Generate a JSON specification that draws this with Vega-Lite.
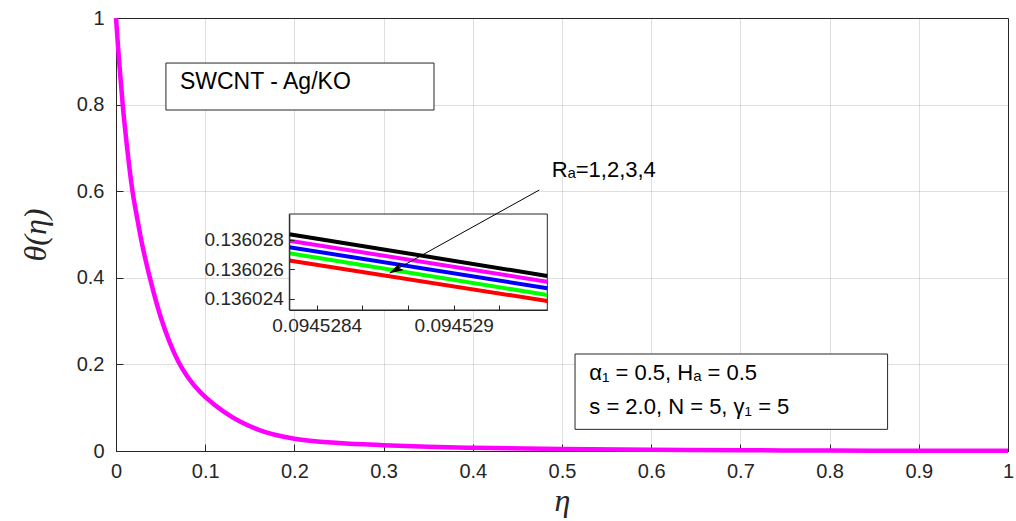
{
  "$schema": "https://vega.github.io/schema/vega-lite/v6.json",
  "width": 892,
  "height": 433,
  "autosize": {"type": "none"},
  "padding": {"left": 116, "top": 18, "right": 8, "bottom": 70},
  "background": "white",
  "config": {
    "view": {"stroke": "#262626", "strokeWidth": 1},
    "font": "Liberation Sans",
    "axis": {"labelColor": "#262626", "domainColor": "#262626", "tickColor": "#262626", "titleColor": "#262626"}
  },
  "datasets": {
    "curve": [
      {"eta": 0, "theta": 1},
      {"eta": 0.0035, "theta": 0.9},
      {"eta": 0.0075, "theta": 0.8},
      {"eta": 0.0125, "theta": 0.7},
      {"eta": 0.0185, "theta": 0.6},
      {"eta": 0.024, "theta": 0.535},
      {"eta": 0.029, "theta": 0.48},
      {"eta": 0.0374, "theta": 0.405},
      {"eta": 0.05, "theta": 0.31},
      {"eta": 0.06, "theta": 0.252},
      {"eta": 0.07, "theta": 0.206},
      {"eta": 0.08, "theta": 0.172},
      {"eta": 0.0945, "theta": 0.136},
      {"eta": 0.1, "theta": 0.125},
      {"eta": 0.12, "theta": 0.092},
      {"eta": 0.139, "theta": 0.068},
      {"eta": 0.16, "theta": 0.049},
      {"eta": 0.187, "theta": 0.0335},
      {"eta": 0.2, "theta": 0.0285},
      {"eta": 0.25, "theta": 0.0185},
      {"eta": 0.3, "theta": 0.0135},
      {"eta": 0.35, "theta": 0.01},
      {"eta": 0.4, "theta": 0.0075},
      {"eta": 0.5, "theta": 0.0045},
      {"eta": 0.6, "theta": 0.0028},
      {"eta": 0.7, "theta": 0.0018},
      {"eta": 0.8, "theta": 0.0011},
      {"eta": 0.9, "theta": 0.0006},
      {"eta": 1.0, "theta": 0.0003}
    ],
    "inset": [
      {"series": "red", "eta": 0.09452828, "theta": 0.13602660},
      {"series": "red", "eta": 0.09452941, "theta": 0.13602386},
      {"series": "green", "eta": 0.09452828, "theta": 0.13602710},
      {"series": "green", "eta": 0.09452941, "theta": 0.13602427},
      {"series": "blue", "eta": 0.09452828, "theta": 0.13602751},
      {"series": "blue", "eta": 0.09452941, "theta": 0.13602473},
      {"series": "magenta", "eta": 0.09452828, "theta": 0.13602795},
      {"series": "magenta", "eta": 0.09452941, "theta": 0.13602517},
      {"series": "black", "eta": 0.09452828, "theta": 0.13602839},
      {"series": "black", "eta": 0.09452941, "theta": 0.13602556}
    ]
  },
  "layer": [
    {
      "layer": [
        {
          "data": {"name": "curve"},
          "mark": {"type": "line", "color": "#FF00FF", "strokeWidth": 4.5, "interpolate": "monotone"},
          "encoding": {
            "x": {
              "field": "eta", "type": "quantitative",
              "scale": {"domain": [0, 1], "nice": false, "zero": false},
              "axis": {
                "orient": "bottom", "title": "η",
                "values": [0, 0.1, 0.2, 0.3, 0.4, 0.5, 0.6, 0.7, 0.8, 0.9, 1],
                "format": "~g", "labelFontSize": 20, "labelPadding": 17,
                "tickSize": -7, "grid": true, "gridColor": "#262626", "gridOpacity": 0.15,
                "titleFont": "Liberation Serif", "titleFontStyle": "italic", "titleFontWeight": "normal",
                "titleFontSize": 32, "titlePadding": 4, "labelFlush": false
              }
            },
            "y": {
              "field": "theta", "type": "quantitative",
              "scale": {"domain": [0, 1], "nice": false, "zero": false},
              "axis": {
                "orient": "left", "title": "θ(η)",
                "values": [0, 0.2, 0.4, 0.6, 0.8, 1],
                "format": "~g", "labelFontSize": 20, "labelPadding": 19,
                "tickSize": -7, "grid": true, "gridColor": "#262626", "gridOpacity": 0.15,
                "titleFont": "Liberation Serif", "titleFontStyle": "italic", "titleFontWeight": "normal",
                "titleFontSize": 32, "titlePadding": 24, "labelFlush": false
              }
            }
          }
        },
        {
          "data": {"values": [{"label": "SWCNT - Ag/KO"}]},
          "mark": {"type": "rect", "fill": "white", "stroke": "#262626", "strokeWidth": 1},
          "encoding": {
            "x": {"datum": 0.056, "type": "quantitative"},
            "x2": {"datum": 0.3565},
            "y": {"datum": 0.7875, "type": "quantitative"},
            "y2": {"datum": 0.896}
          }
        },
        {
          "data": {"values": [{"label": "SWCNT - Ag/KO"}]},
          "mark": {"type": "text", "align": "left", "baseline": "middle", "fontSize": 23, "color": "black"},
          "encoding": {
            "x": {"datum": 0.0717, "type": "quantitative"},
            "y": {"datum": 0.852, "type": "quantitative"},
            "text": {"field": "label"}
          }
        },
        {
          "data": {"values": [{"label": "parameters"}]},
          "mark": {"type": "rect", "fill": "white", "stroke": "#262626", "strokeWidth": 1},
          "encoding": {
            "x": {"datum": 0.5146, "type": "quantitative"},
            "x2": {"datum": 0.865},
            "y": {"datum": 0.05, "type": "quantitative"},
            "y2": {"datum": 0.224}
          }
        },
        {
          "data": {"values": [{"label": "α₁ = 0.5, Hₐ = 0.5"}]},
          "mark": {"type": "text", "align": "left", "baseline": "alphabetic", "fontSize": 22, "color": "black", "font": "Liberation Sans, DejaVu Sans"},
          "encoding": {
            "x": {"datum": 0.5306, "type": "quantitative"},
            "y": {"datum": 0.164, "type": "quantitative"},
            "text": {"field": "label"}
          }
        },
        {
          "data": {"values": [{"label": "s = 2.0, N = 5, γ₁ = 5"}]},
          "mark": {"type": "text", "align": "left", "baseline": "alphabetic", "fontSize": 22, "color": "black", "font": "Liberation Sans, DejaVu Sans"},
          "encoding": {
            "x": {"datum": 0.5306, "type": "quantitative"},
            "y": {"datum": 0.0855, "type": "quantitative"},
            "text": {"field": "label"}
          }
        },
        {
          "data": {"values": [{"label": "Rₐ=1,2,3,4"}]},
          "mark": {"type": "text", "align": "left", "baseline": "alphabetic", "fontSize": 22, "color": "black", "font": "Liberation Sans, DejaVu Sans"},
          "encoding": {
            "x": {"datum": 0.4884, "type": "quantitative"},
            "y": {"datum": 0.6335, "type": "quantitative"},
            "text": {"field": "label"}
          }
        }
      ]
    },
    {
      "layer": [
        {
          "data": {"values": [{"label": "inset"}]},
          "mark": {"type": "rect", "fill": "white", "stroke": "#262626", "strokeWidth": 1},
          "encoding": {
            "x": {"datum": 0.09452828, "type": "quantitative"},
            "x2": {"datum": 0.09452941},
            "y": {"datum": 0.13602325, "type": "quantitative"},
            "y2": {"datum": 0.13602976}
          }
        },
        {
          "data": {"name": "inset"},
          "mark": {"type": "line", "strokeWidth": 4},
          "encoding": {
            "x": {
              "field": "eta", "type": "quantitative",
              "scale": {"domain": [0.09452828, 0.09452941], "range": [173.3, 431.3], "nice": false, "zero": false},
              "axis": {
                "orient": "bottom", "offset": -141, "title": null, "zindex": 1,
                "values": [0.0945284, 0.0945286, 0.0945288, 0.094529, 0.0945292],
                "labelExpr": "abs(datum.value - 0.0945284) < 1e-11 ? '0.0945284' : (abs(datum.value - 0.094529) < 1e-11 ? '0.094529' : '')",
                "labelFontSize": 19, "labelPadding": 11, "tickSize": -5, "grid": false, "labelFlush": false, "labelOverlap": false
              }
            },
            "y": {
              "field": "theta", "type": "quantitative",
              "scale": {"domain": [0.13602325, 0.13602976], "range": [292, 196], "nice": false, "zero": false},
              "axis": {
                "orient": "left", "offset": -173.3, "title": null, "zindex": 1,
                "values": [0.136024, 0.136026, 0.136028],
                "format": ".6f", "labelFontSize": 19, "labelPadding": 11, "tickSize": -5, "grid": false, "labelFlush": false, "labelOverlap": false
              }
            },
            "color": {
              "field": "series", "type": "nominal",
              "scale": {"domain": ["red", "green", "blue", "magenta", "black"], "range": ["#FF0000", "#00FF00", "#0000FF", "#FF00FF", "#000000"]},
              "legend": null
            },
            "order": {"field": "eta", "type": "quantitative"}
          }
        }
      ]
    },
    {
      "layer": [
        {
          "data": {"values": [{"label": "arrow"}]},
          "mark": {"type": "rule", "color": "black", "strokeWidth": 1},
          "encoding": {
            "x": {"datum": 0.4746, "type": "quantitative", "scale": {"domain": [0, 1], "nice": false, "zero": false}, "axis": null},
            "x2": {"datum": 0.3132},
            "y": {"datum": 0.6028, "type": "quantitative", "scale": {"domain": [0, 1], "nice": false, "zero": false}, "axis": null},
            "y2": {"datum": 0.4182}
          }
        },
        {
          "data": {"values": [{"label": "arrow"}]},
          "mark": {"type": "point", "shape": "M0,-1 L0.55,1 L0,0.55 L-0.55,1 Z", "filled": true, "color": "black", "opacity": 1, "size": 220, "strokeWidth": 0},
          "encoding": {
            "x": {"datum": 0.3132, "type": "quantitative"},
            "y": {"datum": 0.4182, "type": "quantitative"},
            "angle": {"value": 241}
          }
        }
      ]
    }
  ],
  "resolve": {"scale": {"x": "independent", "y": "independent", "color": "independent"}, "axis": {"x": "independent", "y": "independent"}}
}
